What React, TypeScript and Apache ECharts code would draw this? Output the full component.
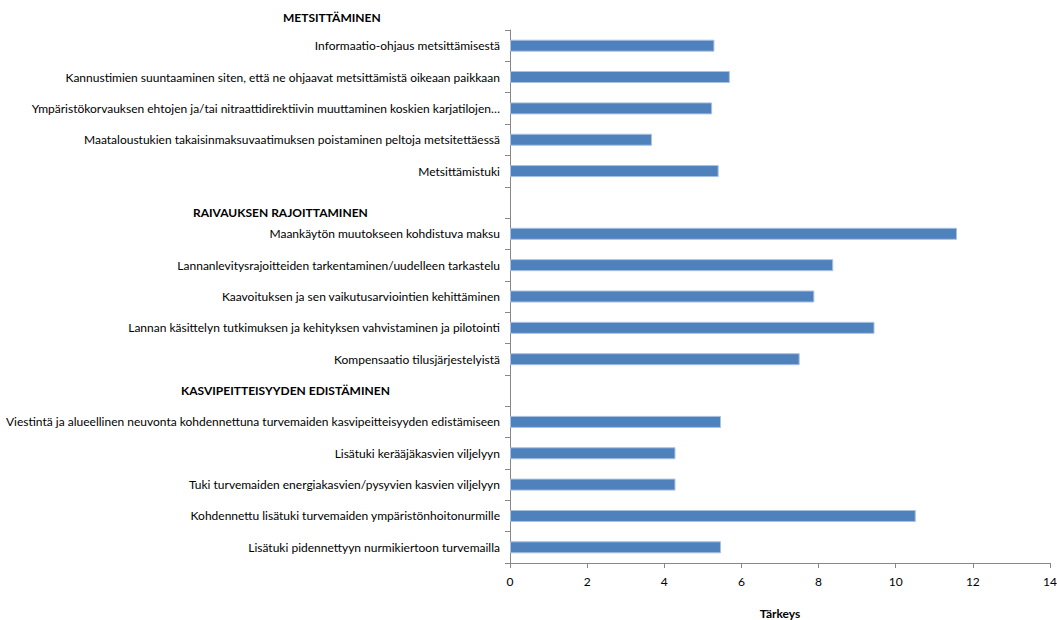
import React, { useEffect, useRef } from "react";
import * as echarts from "echarts";

const categories: string[] = [
  "Informaatio-ohjaus metsittämisestä",
  "Kannustimien suuntaaminen siten, että ne ohjaavat metsittämistä oikeaan paikkaan",
  "Ympäristökorvauksen ehtojen ja/tai nitraattidirektiivin muuttaminen koskien karjatilojen…",
  "Maataloustukien takaisinmaksuvaatimuksen poistaminen peltoja metsitettäessä",
  "Metsittämistuki",
  "",
  "Maankäytön muutokseen kohdistuva maksu",
  "Lannanlevitysrajoitteiden tarkentaminen/uudelleen tarkastelu",
  "Kaavoituksen ja sen vaikutusarviointien kehittäminen",
  "Lannan käsittelyn tutkimuksen ja kehityksen vahvistaminen ja pilotointi",
  "Kompensaatio tilusjärjestelyistä",
  "",
  "Viestintä ja alueellinen neuvonta kohdennettuna turvemaiden kasvipeitteisyyden edistämiseen",
  "Lisätuki kerääjäkasvien viljelyyn",
  "Tuki turvemaiden energiakasvien/pysyvien kasvien viljelyyn",
  "Kohdennettu lisätuki turvemaiden ympäristönhoitonurmille",
  "Lisätuki pidennettyyn nurmikiertoon turvemailla",
];

const values: (number | null)[] = [
  5.3, 5.7, 5.24, 3.68, 5.41,
  null,
  11.59, 8.38, 7.89, 9.45, 7.51,
  null,
  5.47, 4.29, 4.29, 10.52, 5.47,
];

const headers: string[] = [
  "METSITTÄMINEN",
  "RAIVAUKSEN RAJOITTAMINEN",
  "KASVIPEITTEISYYDEN EDISTÄMINEN",
];

const axisTitle = "Tärkeys";
const FONT = "Lato, sans-serif";

export default function App() {
  const ref = useRef<HTMLDivElement>(null);
  useEffect(() => {
    if (!ref.current) return;
    const chart = echarts.init(ref.current, null, { renderer: "svg" });
    const headerPos = [
      { x: 283, y: 17 },
      { x: 193, y: 212 },
      { x: 181, y: 390 },
    ];
    chart.setOption({
      animation: false,
      backgroundColor: "#ffffff",
      grid: { left: 510, right: 7, top: 30, bottom: 57, containLabel: false, outerBoundsMode: "none" },
      xAxis: {
        type: "value",
        min: 0,
        max: 14,
        interval: 2,
        splitLine: { show: false },
        axisLine: { show: true, lineStyle: { color: "#878787", width: 1 } },
        axisTick: { show: true, length: 5, lineStyle: { color: "#878787" } },
        axisLabel: { color: "#000", fontSize: 12, fontFamily: FONT, margin: 12 },
        name: axisTitle,
        nameLocation: "middle",
        nameGap: 44,
        nameTextStyle: { color: "#000", fontSize: 12, fontWeight: "bold", fontFamily: FONT },
      },
      yAxis: {
        type: "category",
        inverse: true,
        data: categories,
        axisLine: { show: true, lineStyle: { color: "#878787", width: 1 } },
        axisTick: { show: true, length: 5, lineStyle: { color: "#878787" } },
        axisLabel: { color: "#000", fontSize: 12, fontFamily: FONT, margin: 10, interval: 0 },
        splitLine: { show: false },
      },
      series: [
        {
          type: "bar",
          data: values,
          barWidth: 12,
          itemStyle: { color: "#4F81BD", borderColor: "#A9C1E0", borderWidth: 1 },
        },
      ],
      graphic: headers.map((h, i) => ({
        type: "text",
        x: headerPos[i].x,
        y: headerPos[i].y,
        style: {
          text: h,
          fill: "#000",
          fontSize: 12,
          fontWeight: "bold",
          fontFamily: FONT,
          verticalAlign: "middle",
          align: "left",
        },
      })),
    });
    return () => chart.dispose();
  }, []);
  return (
    <div
      ref={ref}
      style={{ position: "fixed", left: 0, top: 0, width: 1057, height: 620 }}
    />
  );
}
